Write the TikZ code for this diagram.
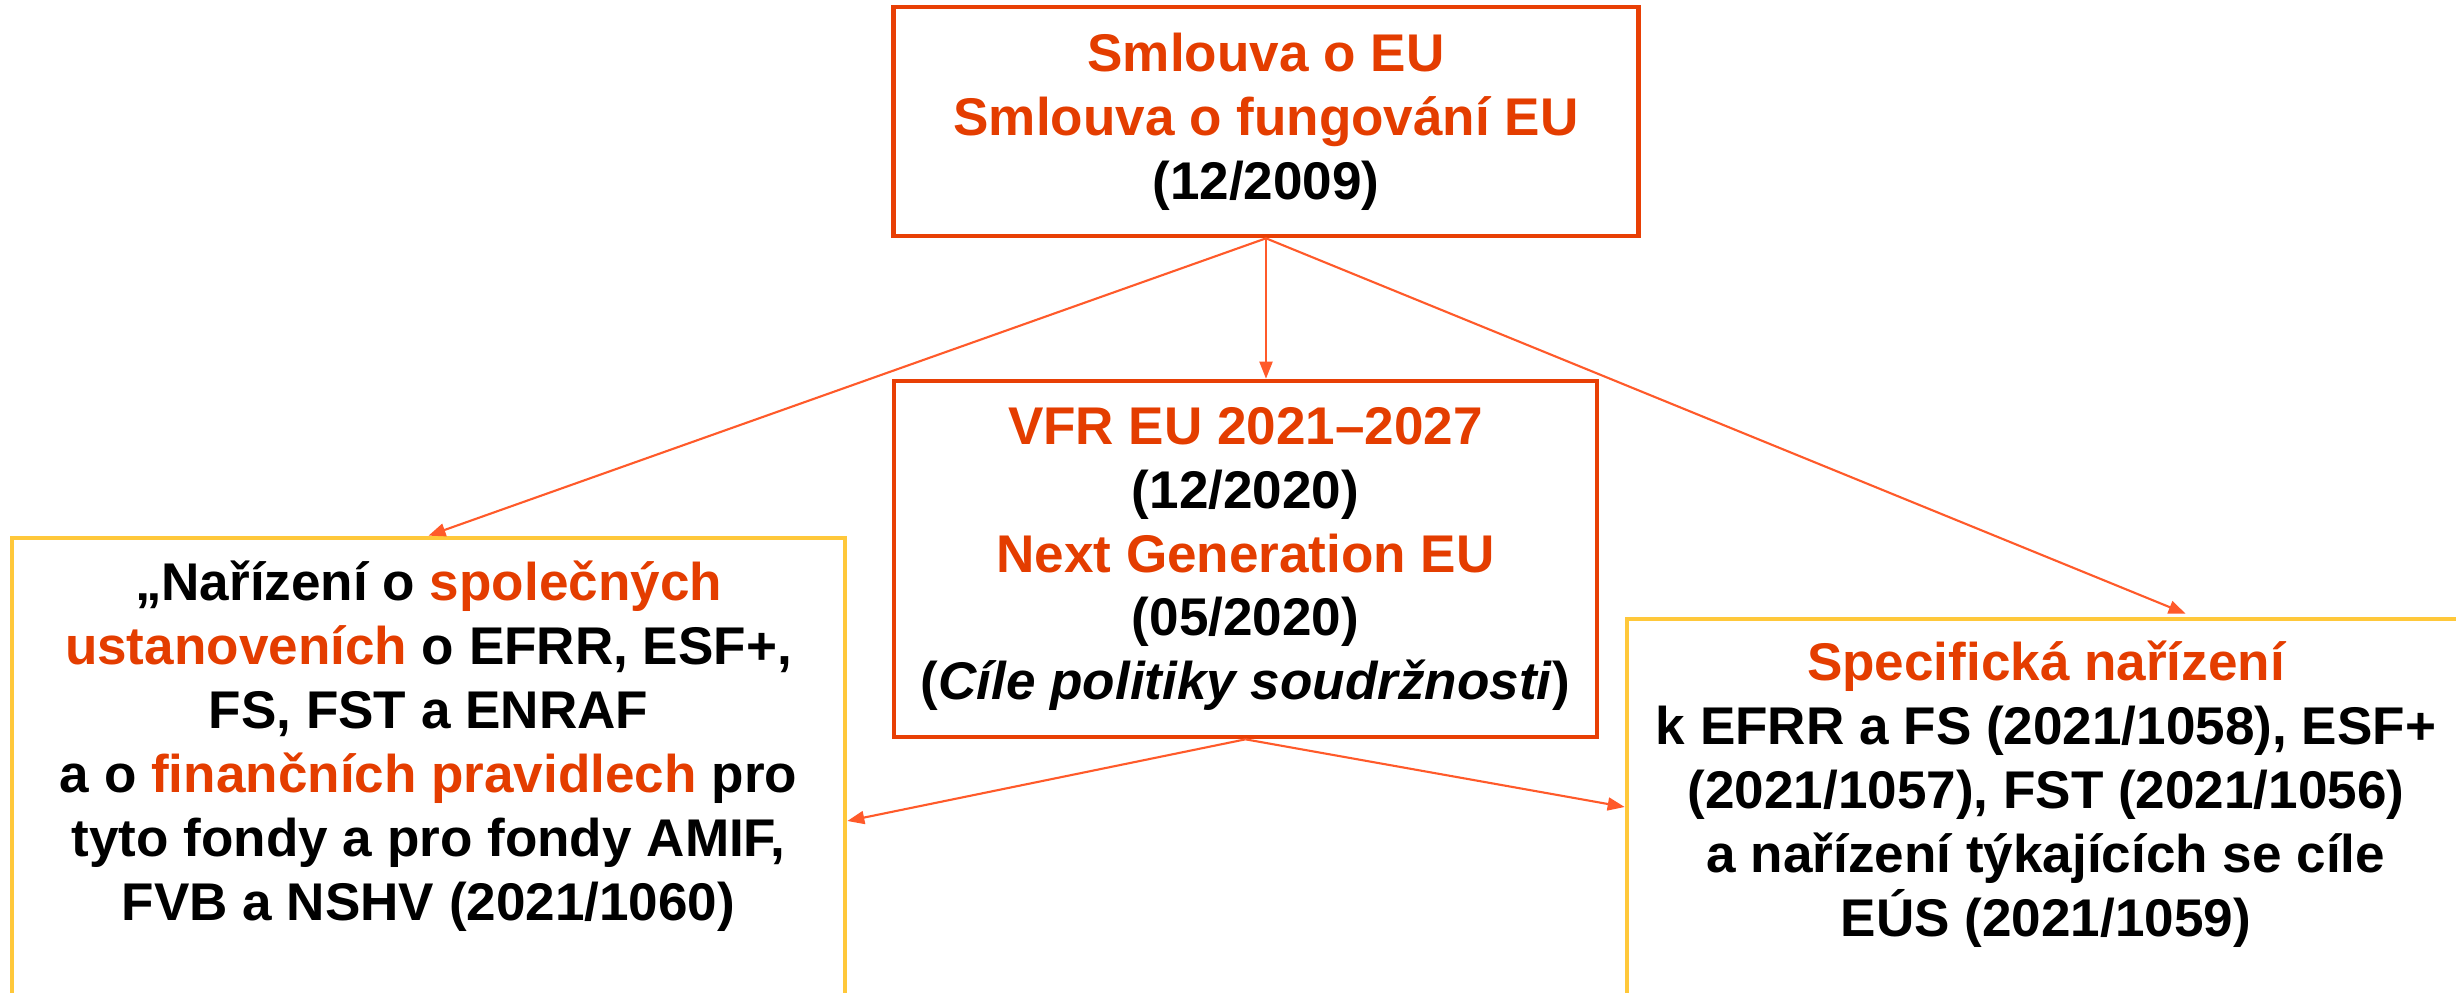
\documentclass[tikz,border=0pt]{standalone}
\usepackage{fontspec}
\setmainfont{Liberation Sans}
\usepackage{tikz}
\usetikzlibrary{arrows.meta}

\definecolor{txtred}{HTML}{E43D00}
\definecolor{boxred}{HTML}{E83F05}
\definecolor{arrred}{HTML}{FF5A2A}
\definecolor{boxyellow}{HTML}{FFC83A}
\newcommand{\hl}[1]{\textcolor{txtred}{#1}}

\begin{document}
\begin{tikzpicture}[x=0.1mm, y=-0.1mm,
    txt/.style={align=center, inner sep=0pt, font=\bfseries\fontsize{15.1pt}{18.2pt}\selectfont},
    redbox/.style={txt, draw=boxred, line width=1.33pt},
    yellowbox/.style={draw=boxyellow, line width=1.33pt, inner sep=0pt},
    arr/.style={draw=arrred, line width=0.6pt, -{Triangle[length=1.7mm, width=1.3mm]}}]
    \useasboundingbox (0,0) rectangle (2456,993);
    \fill[white] (0,0) rectangle (2456,993);
    \clip (0,0) rectangle (2456,993);

    % Define nodes
    \node[redbox, minimum width=74.5mm, minimum height=22.9mm] (treaty) at (1266,121.5)
        {\hl{Smlouva o EU}\\ \hl{Smlouva o fungování EU}\\ (12/2009)};
    \node[redbox, minimum width=70.3mm, minimum height=35.6mm] (mff) at (1245.5,559)
        {\hl{VFR EU 2021–2027}\\ (12/2020)\\ \hl{Next Generation EU}\\ (05/2020)\\ (\textit{Cíle politiky soudržnosti})};

    \node[yellowbox, minimum width=83.3mm, minimum height=45.7mm] (law) at (428.5,766.5) {};
    \node[txt] (lawtext) at (428.5,746)
        {„Nařízení o \hl{společných}\\ \hl{ustanoveních} o EFRR, ESF+,\\ FS, FST a ENRAF\\
         a o \hl{finančních pravidlech} pro\\ tyto fondy a pro fondy AMIF,\\ FVB a NSHV (2021/1060)};

    \node[yellowbox, minimum width=84.3mm, minimum height=37.6mm] (spec) at (2048.5,807) {};
    \node[txt] (spectext) at (2046,794)
        {\hl{Specifická nařízení}\\ k EFRR a FS (2021/1058), ESF+\\ (2021/1057), FST (2021/1056)\\
         a nařízení týkajících se cíle\\ EÚS (2021/1059)};

    % Draw arrows
    \draw[arr] (treaty.south) -- (law.north);
    \draw[arr] (treaty.south) -- (treaty.south |- mff.north);
    \draw[arr, shorten >=0.8mm] (treaty.south) -- ([xshift=14.45mm]spec.north);
    \draw[arr] (mff.south) -- ([yshift=-5.45mm]law.east);
    \draw[arr] (mff.south) -- (spec.west);
\end{tikzpicture}
\end{document}
